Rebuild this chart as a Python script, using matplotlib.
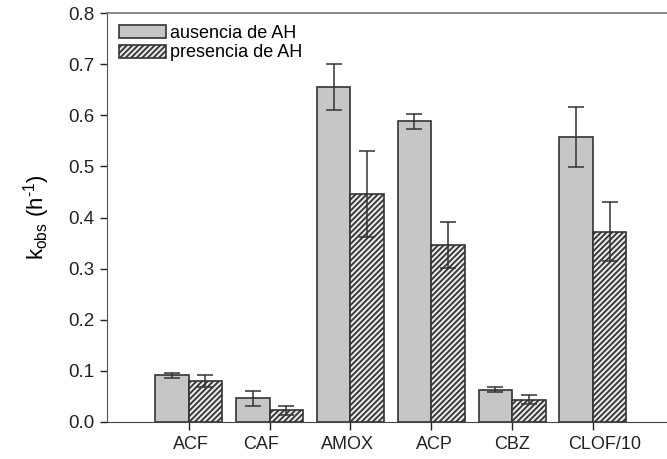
import numpy as np
import matplotlib
matplotlib.use('Agg')
import matplotlib.pyplot as plt
import matplotlib.patches as mpatches
import matplotlib.transforms as mtransforms

plt.rcParams['font.family'] = ['Liberation Sans', 'DejaVu Sans']
plt.rcParams['mathtext.fontset'] = 'custom'
plt.rcParams['mathtext.rm'] = 'Liberation Sans'
plt.rcParams['mathtext.it'] = 'Liberation Sans'
plt.rcParams['hatch.linewidth'] = 1.3
plt.rcParams['hatch.color'] = '#2b2b2b'

# data
compounds = ['ACF', 'CAF', 'AMOX', 'ACP', 'CBZ', 'CLOF/10']
k_sin_ah = [0.091, 0.046, 0.656, 0.588, 0.063, 0.558]
err_sin_ah = [0.005, 0.015, 0.045, 0.015, 0.005, 0.059]
k_con_ah = [0.080, 0.023, 0.446, 0.346, 0.044, 0.372]
err_con_ah = [0.012, 0.009, 0.084, 0.045, 0.009, 0.058]
legend_labels = ['ausencia de AH', 'presencia de AH']

x = np.arange(len(compounds))
w = 0.414

fig = plt.figure(figsize=(6.67, 4.59), dpi=100)
ax = fig.add_axes([107 / 667, 37 / 459, 566 / 667, 409 / 459])

edge = '#333333'
ax.bar(x - w / 2, k_sin_ah, w, color='#c6c6c6', edgecolor=edge, linewidth=1.2, zorder=2)
ax.bar(x + w / 2, k_con_ah, w, color='#e8e8e8', edgecolor=edge, hatch='//////', linewidth=1.2, zorder=2)
ax.errorbar(x - w / 2, k_sin_ah, yerr=err_sin_ah, fmt='none', ecolor=edge,
            elinewidth=1.1, capsize=5.5, capthick=1.1, zorder=3)
ax.errorbar(x + w / 2, k_con_ah, yerr=err_con_ah, fmt='none', ecolor=edge,
            elinewidth=1.1, capsize=5.5, capthick=1.1, zorder=3)

ax.set_xlim(-1.01, 5.99)
ax.set_ylim(0, 0.8)
ax.set_yticks(np.arange(0, 0.81, 0.1))
ax.set_yticklabels(['{:.1f}'.format(v) for v in np.arange(0, 0.81, 0.1)])
ax.set_xticks(x)
ax.set_xticklabels(compounds)
ax.tick_params(axis='y', direction='out', length=5, width=1, colors='#222222', labelsize=13.5, pad=4)
ax.tick_params(axis='x', direction='out', length=6, width=1, colors='#222222', labelsize=13, pad=4)

# labels in the original sit a little off their ticks (pixels)
label_shift = [2, -8, -3, 3, 0, 12]
for lab, dx in zip(ax.get_xticklabels(), label_shift):
    lab.set_transform(lab.get_transform() + mtransforms.ScaledTranslation(dx / 100, 0, fig.dpi_scale_trans))

ax.spines['right'].set_visible(False)
ax.spines['left'].set_color('#555555')
ax.spines['top'].set_color('#777777')
ax.spines['top'].set_linewidth(1.2)
ax.spines['bottom'].set_color('#444444')

ax.set_ylabel(r'k$_{\mathregular{obs}}$ (h$^{\mathregular{\text{-}1}}$)', fontsize=16, labelpad=12)

handles = [mpatches.Rectangle((0, 0), 1, 1, facecolor='#c6c6c6', edgecolor=edge, linewidth=1.2),
           mpatches.Rectangle((0, 0), 1, 1, facecolor='#e8e8e8', edgecolor=edge, hatch='//////', linewidth=1.2)]
ax.legend(handles, legend_labels, loc='upper left', frameon=False, fontsize=13,
          handlelength=2.6, handleheight=0.75, handletextpad=0.25, labelspacing=0.15,
          borderaxespad=0.2, borderpad=0.45)

fig.savefig('out.png', dpi=100)
